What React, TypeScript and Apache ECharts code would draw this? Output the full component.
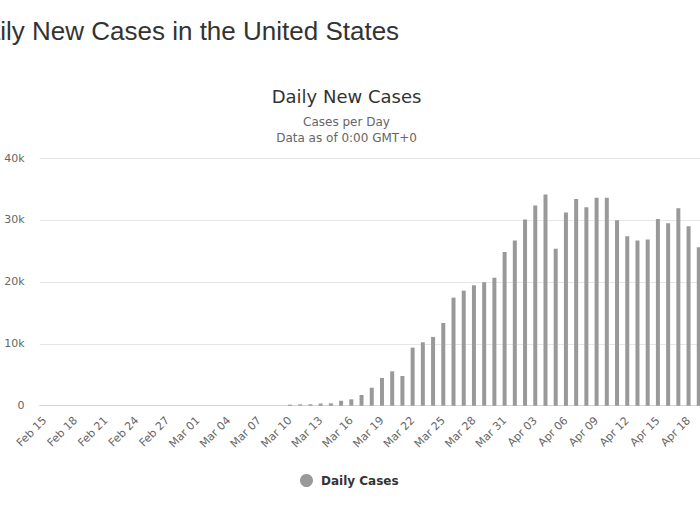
import React, { useEffect, useRef } from 'react';
import * as echarts from 'echarts';

const categories = [
  'Feb 15', 'Feb 16', 'Feb 17', 'Feb 18', 'Feb 19', 'Feb 20', 'Feb 21', 'Feb 22', 'Feb 23', 'Feb 24',
  'Feb 25', 'Feb 26', 'Feb 27', 'Feb 28', 'Feb 29', 'Mar 01', 'Mar 02', 'Mar 03', 'Mar 04', 'Mar 05',
  'Mar 06', 'Mar 07', 'Mar 08', 'Mar 09', 'Mar 10', 'Mar 11', 'Mar 12', 'Mar 13', 'Mar 14', 'Mar 15',
  'Mar 16', 'Mar 17', 'Mar 18', 'Mar 19', 'Mar 20', 'Mar 21', 'Mar 22', 'Mar 23', 'Mar 24', 'Mar 25',
  'Mar 26', 'Mar 27', 'Mar 28', 'Mar 29', 'Mar 30', 'Mar 31', 'Apr 01', 'Apr 02', 'Apr 03', 'Apr 04',
  'Apr 05', 'Apr 06', 'Apr 07', 'Apr 08', 'Apr 09', 'Apr 10', 'Apr 11', 'Apr 12', 'Apr 13', 'Apr 14',
  'Apr 15', 'Apr 16', 'Apr 17', 'Apr 18', 'Apr 19',
];

const dailyCases = [
  0, 0, 0, 0, 0, 0, 0, 0, 0, 0,
  0, 0, 0, 0, 0, 0, 0, 0, 0, 0,
  0, 0, 0, 0, 170, 210, 230, 350, 380, 800,
  1030, 1730, 2910, 4470, 5550, 4800, 9370, 10240, 11100, 13360,
  17450, 18580, 19450, 19940, 20680, 24830, 26660, 30050, 32310, 34090,
  25360, 31180, 33390, 32050, 33600, 33600, 29950, 27370, 26660, 26820,
  30160, 29470, 31890, 28980, 25590,
];

const yMin = 0;
const yMax = 40000;
const yStep = 10000;

const pageTitle = 'Daily New Cases in the United States';
const chartTitle = 'Daily New Cases';
const chartSubtitles = ['Cases per Day', 'Data as of 0:00 GMT+0'];
const seriesName = 'Daily Cases';

const FONT = '"DejaVu Sans", "Lucida Grande", sans-serif';

export default function App() {
  const ref = useRef<HTMLDivElement>(null);
  useEffect(() => {
    if (!ref.current) return;
    const chart = echarts.init(ref.current, undefined, { renderer: 'svg' });
    chart.setOption({
      animation: false,
      backgroundColor: '#ffffff',
      graphic: [
        {
          type: 'text', x: -33, y: 31,
          style: {
            text: pageTitle, fill: '#333333',
            font: 'normal 26px "Liberation Sans", Arial, sans-serif',
            align: 'left', verticalAlign: 'middle',
          },
        },
        {
          type: 'text', x: 346.5, y: 96.5,
          style: {
            text: chartTitle, fill: '#333333',
            font: 'normal 18px ' + FONT,
            align: 'center', verticalAlign: 'middle',
          },
        },
        {
          type: 'text', x: 346.5, y: 121.5,
          style: {
            text: chartSubtitles[0], fill: '#666666',
            font: 'normal 12px ' + FONT,
            align: 'center', verticalAlign: 'middle',
          },
        },
        {
          type: 'text', x: 346.5, y: 137.5,
          style: {
            text: chartSubtitles[1], fill: '#666666',
            font: 'normal 12px ' + FONT,
            align: 'center', verticalAlign: 'middle',
          },
        },
      ],
      legend: {
        left: 295, top: 469,
        icon: 'circle', itemWidth: 19, itemHeight: 13,
        textStyle: { fontFamily: FONT, fontSize: 12, fontWeight: 'bold', color: '#333333' },
        data: [seriesName],
      },
      grid: {
        left: 39.6, right: 16.1, top: 158, bottom: 119.3,
        outerBoundsMode: 'none',
      },
      xAxis: {
        type: 'category',
        data: categories,
        axisTick: { show: false },
        axisLine: { lineStyle: { color: '#ccd6eb' } },
        axisLabel: {
          interval: 2, rotate: 45, margin: 13,
          fontFamily: FONT, fontSize: 11, color: '#666666',
        },
      },
      yAxis: {
        type: 'value',
        min: yMin, max: yMax, interval: yStep,
        axisLine: { show: false },
        axisTick: { show: false },
        splitLine: { lineStyle: { color: '#e6e6e6' } },
        axisLabel: {
          margin: 15, fontFamily: FONT, fontSize: 11, color: '#666666',
          formatter: (v: number) => (v === 0 ? '0' : v / 1000 + 'k'),
        },
      },
      series: [
        {
          name: seriesName,
          type: 'bar',
          data: dailyCases,
          barWidth: 4,
          itemStyle: { color: '#999999' },
        },
      ],
    });
    return () => chart.dispose();
  }, []);
  return (
    <div style={{ position: 'fixed', left: 0, top: 0, width: 700, height: 525, overflow: 'hidden', background: '#fff' }}>
      <div ref={ref} style={{ width: 720, height: 525 }} />
    </div>
  );
}
